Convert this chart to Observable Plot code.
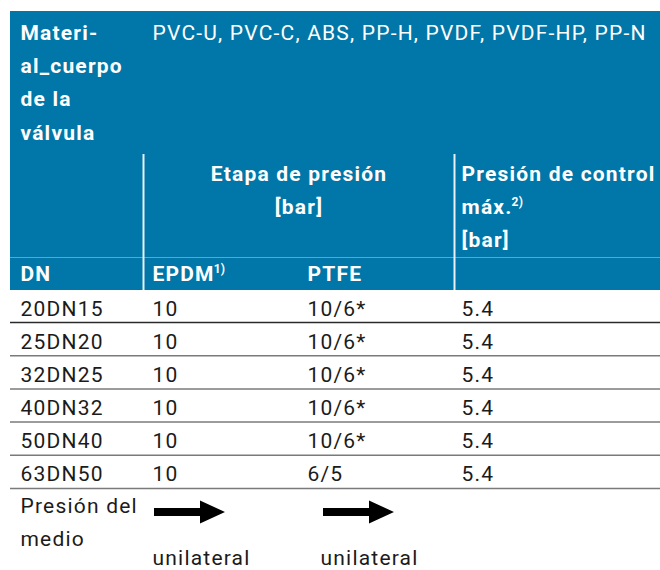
<!DOCTYPE html>
<html>
<head>
<meta charset="utf-8">
<script src="https://cdn.jsdelivr.net/npm/d3@7"></script>
<script src="https://cdn.jsdelivr.net/npm/@observablehq/plot@0.6"></script>
<style>
  html, body { margin: 0; padding: 0; background: #ffffff; }
</style>
</head>
<body>
<div id="chart"></div>
<script>
// ---------- data ----------
const materialLabel = ["Materi-", "al_cuerpo", "de la", "válvula"];
const materials = ["PVC-U, PVC-C, ABS, PP-H, PVDF, PVDF-HP, PP-N"];
const pressureHeader = ["Etapa de presión", "[bar]"];
const controlHeader = ["Presión de control", "máx.^2)", "[bar]"];
const columnLabels = ["DN", "EPDM^1)", "PTFE"];
const dn = ["20DN15", "25DN20", "32DN25", "40DN32", "50DN40", "63DN50"];
const epdm = ["10", "10", "10", "10", "10", "10"];
const ptfe = ["10/6*", "10/6*", "10/6*", "10/6*", "10/6*", "6/5"];
const controlMax = ["5.4", "5.4", "5.4", "5.4", "5.4", "5.4"];
const mediumLabel = ["Presión del", "medio"];
const direction = ["unilateral", "unilateral"];

// ---------- layout ----------
const W = 660, H = 570;
const blue = "#0077a8";
const font = "Roboto";
const fs = 21;
const tableLeft = 10, tableRight = 660;
const headTop = 11, headBottom = 290;
const colX = [20, 152, 307, 461];          // text start in each column
const divX = [143, 454];                    // white dividers
const divTop = 154;
const subLine = 257;                        // light line in header
const pitch = 33.35;
const matBase = 39;                         // baseline first material line
const subBase = 180;                        // baseline first sub-header line
const dataBase = 315, dataPitch = 33.1;
const lineBase = 322, linePitch = 33.2;
const bottomBase = 512.5, uniBase = 564;
const arrowX = [154, 323], arrowLen = 71, headLen = 25, shaftHalf = 4, headHalf = 11.5, arrowY = 512;
const uniX = [152, 320];

// ---------- build cells ----------
const headBold = [], headReg = [], headCenter = [], body = [];
materialLabel.forEach((t, i) => headBold.push({t, x: colX[0], y: matBase + i * pitch}));
materials.forEach((t) => headReg.push({t, x: colX[1], y: matBase}));
pressureHeader.forEach((t, j) => headCenter.push({t, x: (divX[0] + divX[1]) / 2, y: subBase + j * pitch}));
controlHeader.forEach((t, j) => headBold.push({t, x: colX[3], y: subBase + j * pitch}));
columnLabels.forEach((t, c) => headBold.push({t, x: colX[c], y: subBase + 3 * pitch}));

const cols = [dn, epdm, ptfe, controlMax];
cols.forEach((arr, c) => arr.forEach((t, i) => body.push({t, x: colX[c], y: dataBase + i * dataPitch})));
mediumLabel.forEach((t, i) => body.push({t, x: colX[0], y: bottomBase + i * pitch}));
direction.forEach((t, k) => body.push({t, x: uniX[k], y: uniBase}));

const rowLines = dn.map((d, i) => ({y: lineBase + i * linePitch, dark: i === 0}));

const arrows = [];
arrowX.forEach((x0, k) => {
  const xh = x0 + arrowLen - headLen, xt = x0 + arrowLen;
  arrows.push({k, x: x0, y1: arrowY - shaftHalf, y2: arrowY + shaftHalf});
  arrows.push({k, x: xh, y1: arrowY - shaftHalf, y2: arrowY + shaftHalf});
  arrows.push({k, x: xh, y1: arrowY - headHalf, y2: arrowY + headHalf});
  arrows.push({k, x: xt, y1: arrowY, y2: arrowY});
});

const textOpts = (extra) => ({
  x: "x", y: "y", text: "t", fontFamily: font, fontSize: fs,
  lineAnchor: "bottom", textAnchor: "start", ...extra
});

const plot = Plot.plot({
  width: W, height: H,
  margin: 0,
  x: {domain: [0, W], range: [0, W], axis: null},
  y: {domain: [0, H], range: [0, H], axis: null},
  style: "letter-spacing: 1.2px; background: #ffffff; font-family: Roboto;",
  marks: [
    Plot.rect([{}], {x1: tableLeft, x2: tableRight, y1: headTop, y2: headBottom, fill: blue}),
    Plot.ruleY([subLine], {x1: tableLeft, x2: tableRight, stroke: "#5aa6cf", strokeWidth: 1}),
    Plot.ruleX(divX, {y1: divTop, y2: headBottom, stroke: "#e9f1f6", strokeWidth: 2}),
    Plot.ruleY(rowLines, {y: "y", x1: tableLeft, x2: tableRight,
      stroke: (d) => d.dark ? "#2a2a2a" : "#7a7a7a", strokeWidth: 1.5}),
    Plot.areaY(arrows, {x: "x", y1: "y1", y2: "y2", z: "k", fill: "#000000", curve: "linear"}),
    Plot.text(headBold, textOpts({fill: "#ffffff", fontWeight: "bold"})),
    Plot.text(headReg, textOpts({fill: "#ffffff", fontWeight: "normal"})),
    Plot.text(headCenter, textOpts({fill: "#ffffff", fontWeight: "bold", textAnchor: "middle"})),
    Plot.text(body, textOpts({fill: "#1b1b1b", fontWeight: "normal"}))
  ]
});

// superscripts: "base^sup"
plot.querySelectorAll("text").forEach((el) => {
  const s = el.textContent;
  if (s.includes("^")) {
    const [base, sup] = s.split("^");
    el.textContent = base;
    const ts = document.createElementNS("http://www.w3.org/2000/svg", "tspan");
    ts.setAttribute("font-size", "12");
    ts.setAttribute("dy", "-8");
    ts.setAttribute("dx", "-1");
    ts.style.letterSpacing = "0.3px";
    ts.textContent = sup;
    el.appendChild(ts);
  }
});

document.getElementById("chart").appendChild(plot);
</script>
</body>
</html>
